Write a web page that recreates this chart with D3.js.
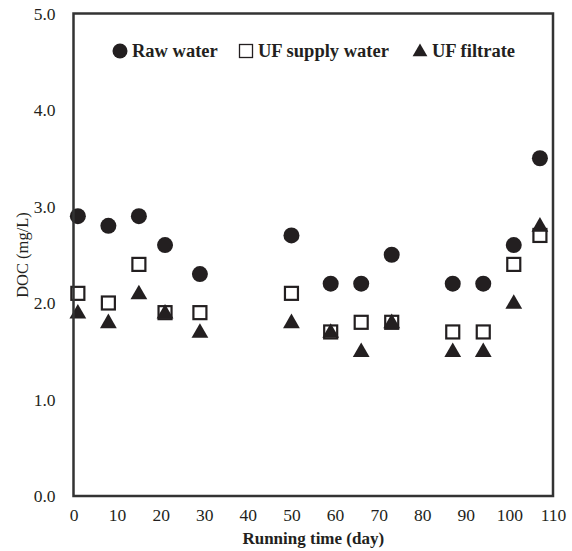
<!DOCTYPE html>
<html>
<head>
<meta charset="utf-8">
<script src="https://cdn.jsdelivr.net/npm/d3@7/dist/d3.min.js"></script>
<style>
	body { margin: 0; background: #fff; }
	svg { display: block; }
	text { font-family: "Liberation Serif", "Times New Roman", serif; fill: #231f20; }
</style>
</head>
<body>
<svg id="chart" width="572" height="551"></svg>
<script>
// running time (day)
const days = [1, 8, 15, 21, 29, 50, 59, 66, 73, 87, 94, 101, 107];
// DOC (mg/L)
const rawWater = [2.9, 2.8, 2.9, 2.6, 2.3, 2.7, 2.2, 2.2, 2.5, 2.2, 2.2, 2.6, 3.5];
const ufSupply = [2.1, 2.0, 2.4, 1.9, 1.9, 2.1, 1.7, 1.8, 1.8, 1.7, 1.7, 2.4, 2.7];
const ufFiltrate = [1.9, 1.8, 2.1, 1.9, 1.7, 1.8, 1.7, 1.5, 1.8, 1.5, 1.5, 2.0, 2.8];

const xTicks = [0, 10, 20, 30, 40, 50, 60, 70, 80, 90, 100, 110];
const yTicks = [0, 1, 2, 3, 4, 5];
const legendNames = ['Raw water', 'UF supply water', 'UF filtrate'];

const margin = {top: 13.5, right: 19, bottom: 55, left: 73.5};
const svg = d3.select('#chart');
const width = +svg.attr('width') - margin.left - margin.right;
const height = +svg.attr('height') - margin.top - margin.bottom;

const x = d3.scaleLinear().domain([0, 110]).range([0, width]);
const y = d3.scaleLinear().domain([0, 5]).range([height, 0]);

const g = svg.append('g')
	.attr('transform', `translate(${margin.left},${margin.top})`);

// axes: labels only, no tick marks
const xAxis = g.append('g')
	.attr('transform', `translate(0,${height})`)
	.call(d3.axisBottom(x).tickValues(xTicks).tickSize(0).tickPadding(13));
xAxis.select('.domain').remove();
xAxis.selectAll('text')
	.style('font-size', '17.5px')
	.attr('font-family', null);

const yAxis = g.append('g')
	.call(d3.axisLeft(y).tickValues(yTicks).tickSize(0).tickPadding(18).tickFormat(d3.format('.1f')));
yAxis.select('.domain').remove();
yAxis.selectAll('text')
	.style('font-size', '17.5px')
	.attr('font-family', null);

const pts = (vals) => days.map((d, i) => ({day: d, v: vals[i]}));

// raw water: filled circles
g.selectAll('.raw')
	.data(pts(rawWater))
	.enter()
	.append('circle')
	.attr('class', 'raw')
	.attr('cx', d => x(d.day))
	.attr('cy', d => y(d.v))
	.attr('r', 8)
	.style('fill', '#231f20');

// UF supply water: open squares
g.selectAll('.supply')
	.data(pts(ufSupply))
	.enter()
	.append('rect')
	.attr('class', 'supply')
	.attr('x', d => x(d.day) - 6.5)
	.attr('y', d => y(d.v) - 6.5)
	.attr('width', 13)
	.attr('height', 13)
	.style('fill', '#fff')
	.style('stroke', '#231f20')
	.style('stroke-width', 2.2);

// UF filtrate: filled triangles
const tri = d3.symbol().type(d3.symbolTriangle).size(122);
g.selectAll('.filtrate')
	.data(pts(ufFiltrate))
	.enter()
	.append('path')
	.attr('class', 'filtrate')
	.attr('transform', d => `translate(${x(d.day)},${y(d.v) + 1})`)
	.attr('d', tri)
	.style('fill', '#231f20');

// frame
g.append('rect')
	.attr('x', 0)
	.attr('y', 0)
	.attr('width', width)
	.attr('height', height)
	.style('fill', 'none')
	.style('stroke', '#333')
	.style('stroke-width', 2.5);

// legend
const legendX = [120, 246, 420];
const legendY = 51;
const legend = svg.append('g');

legend.append('circle')
	.attr('cx', legendX[0])
	.attr('cy', legendY)
	.attr('r', 7.5)
	.style('fill', '#231f20');

legend.append('rect')
	.attr('x', legendX[1] - 6.5)
	.attr('y', legendY - 6.5)
	.attr('width', 13)
	.attr('height', 13)
	.style('fill', '#fff')
	.style('stroke', '#231f20')
	.style('stroke-width', 1.3);

legend.append('path')
	.attr('transform', `translate(${legendX[2]},${legendY + 1})`)
	.attr('d', d3.symbol().type(d3.symbolTriangle).size(95))
	.style('fill', '#231f20');

legend.selectAll('.lbl')
	.data(legendNames)
	.enter()
	.append('text')
	.attr('class', 'lbl')
	.attr('x', (d, i) => legendX[i] + 12)
	.attr('y', legendY + 6)
	.style('font-size', '18.5px')
	.style('font-weight', 'bold')
	.text(d => d);

// axis titles
svg.append('text')
	.attr('x', margin.left + width / 2)
	.attr('y', 544)
	.attr('text-anchor', 'middle')
	.style('font-size', '17px')
	.style('font-weight', 'bold')
	.text('Running time (day)');

svg.append('text')
	.attr('transform', `translate(28,${255}) rotate(-90)`)
	.attr('text-anchor', 'middle')
	.style('font-size', '16.5px')
	.text('DOC (mg/L)');
</script>
</body>
</html>
